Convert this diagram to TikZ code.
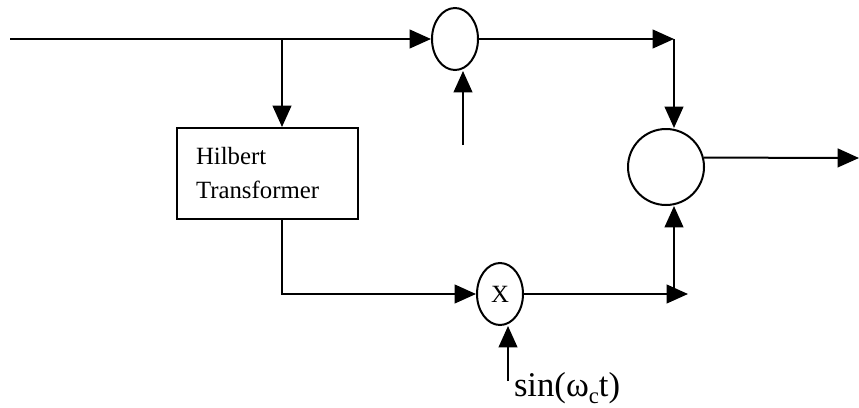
\documentclass[tikz,border=0pt]{standalone}
\usepackage{fontspec}
\setmainfont{Liberation Serif}
\usetikzlibrary{arrows.meta, positioning, shapes.geometric}
\tikzset{
  every picture/.style={line width=1.5pt},
  box/.style={draw, rectangle, align=left, text width=107.25pt, inner xsep=14.25pt, minimum height=68.25pt, font=\fontsize{18.6}{25.5}\selectfont},
  mixer/.style={draw, ellipse, minimum width=34.5pt, minimum height=46.5pt, inner sep=0pt, font=\fontsize{18.6}{22}\selectfont},
  adder/.style={draw, circle, minimum size=57pt, inner sep=0pt},
  arrow/.style={-{Triangle[length=16pt 0 0, width=14pt 0 0]}},
  note/.style={font=\fontsize{26}{30}\selectfont, inner sep=0pt},
}
\begin{document}
\begin{tikzpicture}[x=0.75pt, y=-0.75pt]
  \useasboundingbox (0,0) rectangle (859,407);
  % blocks
  \node[mixer] (mixtop) at (455,39) {};
  \node[box] (hilbert) at (267.5,173.5) {Hilbert\\Transformer};
  \node[mixer] (mixbot) at (500,294) {X};
  \node[adder] (sum) at (666,167) {};
  \node[note, anchor=base west] (carrier) at (513,396) {sin(ω\raisebox{-0.45ex}{\fontsize{17}{17}\selectfont c}t)};
  % free ends and corners
  \coordinate (in) at (10,39);
  \coordinate (split) at (282,39);
  \coordinate (cartop) at (463,145);
  \coordinate (carbot) at (508,381);
  \coordinate (topcorner) at (674,39);
  \coordinate (botcorner) at (674,294);
  \coordinate (botend) at (688,294);
  \coordinate (hilcorner) at (282,294);
  \coordinate (out) at (859,158);
  % upper branch
  \draw[arrow] (in) -- (mixtop);
  \draw[arrow] (cartop) -- (cartop |- mixtop.south);
  \draw[arrow] (mixtop) -- (topcorner);
  \draw[arrow] (topcorner) -- (topcorner |- sum.north);
  % lower branch
  \draw[arrow] (split) -- (split |- hilbert.north);
  \draw[arrow] (split |- hilbert.south) -- (hilcorner) -- (mixbot);
  \draw[arrow] (carbot) -- (carbot |- mixbot.south);
  \draw[arrow] (mixbot) -- (botend);
  \draw[arrow] (botcorner) -- (botcorner |- sum.south);
  % output
  \draw[arrow] (sum.14) -- (out);
\end{tikzpicture}
\end{document}
